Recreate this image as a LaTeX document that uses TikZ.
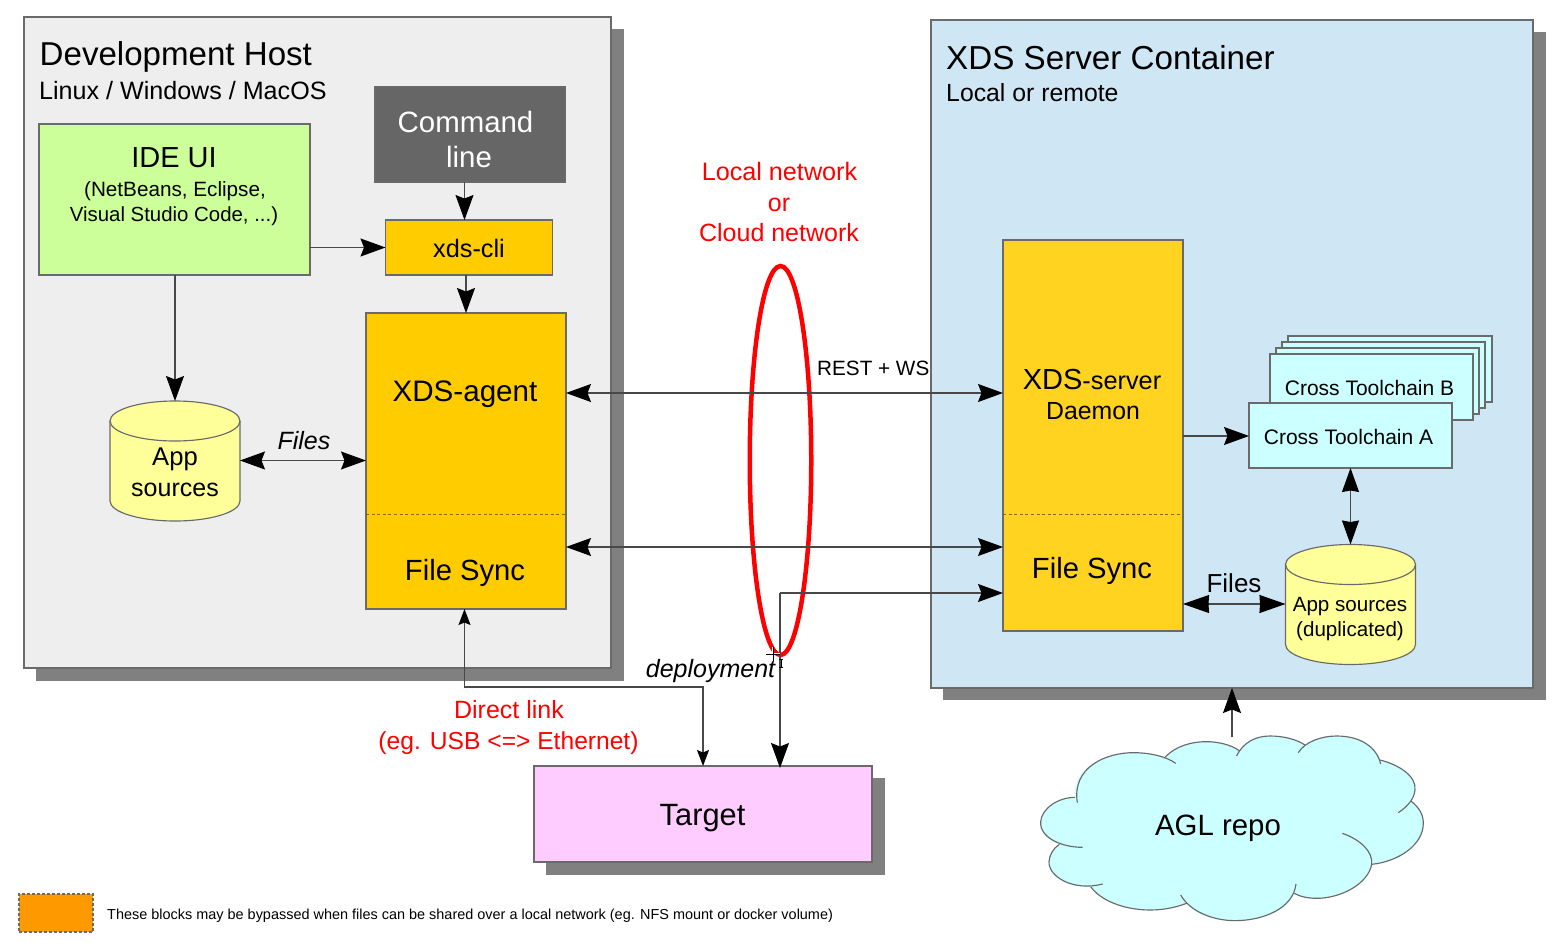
\documentclass[tikz,border=0pt]{standalone}
\usepackage{fontspec}
\setmainfont{Liberation Sans}
\usetikzlibrary{arrows.meta,shapes.geometric}
\definecolor{edge}{HTML}{6A6A6A}
\definecolor{shadowc}{HTML}{808080}
\definecolor{devc}{HTML}{EEEEEE}
\definecolor{srvc}{HTML}{CFE7F5}
\definecolor{idec}{HTML}{CCFF99}
\definecolor{cmdc}{HTML}{666666}
\definecolor{agentc}{HTML}{FFCC00}
\definecolor{daemonc}{HTML}{FFD320}
\definecolor{cylc}{HTML}{FFFF99}
\definecolor{cyanc}{HTML}{CCFFFF}
\definecolor{targetc}{HTML}{FFCCFF}
\definecolor{legendc}{HTML}{FF9900}
\definecolor{linec}{HTML}{484848}
\definecolor{dashc}{HTML}{806A10}
\newcommand{\fs}[1]{\fontsize{#1}{#1}\selectfont}
\tikzset{
  box/.style={draw=edge,line width=1.15pt,inner sep=0pt,outer sep=0pt,anchor=north west,rectangle},
  shadowbox/.style={fill=shadowc,draw=none,inner sep=0pt,outer sep=0pt,anchor=north west,rectangle},
  txt/.style={inner sep=0pt,anchor=base,text=black},
  ltxt/.style={inner sep=0pt,anchor=base west,text=black},
  redtxt/.style={txt,text=red},
  anchorbox/.style={inner sep=0pt,outer sep=0pt,minimum width=130pt,minimum height=120pt},
  conn/.style={draw=linec,line width=1.05pt},
  bighead/.tip={Stealth[length=25pt,width=18pt,inset=3.5pt,color=black]},
  flathead/.tip={Stealth[length=26pt,width=18pt,inset=0.5pt,color=black]},
  tallhead/.tip={Stealth[length=24pt,width=17pt,inset=1.5pt,color=black]},
  smallhead/.tip={Stealth[length=16pt,width=12pt,inset=2.5pt,color=black]},
  big/.style={conn,-bighead},
  bigboth/.style={conn,bighead-bighead},
  flatboth/.style={conn,flathead-flathead},
  tallboth/.style={conn,tallhead-tallhead},
  smallboth/.style={conn,smallhead-smallhead},
  cloudline/.style={draw=edge,line width=1.15pt},
  divider/.style={draw=dashc,line width=1pt,dash pattern=on 3pt off 2.6pt},
}
\newcommand{\cylshape}[2]{%
  \begin{scope}[shift={(#1,#2)}]
    \path[draw=edge,line width=1.15pt,fill=cylc] (0,20) -- (0,100) .. controls (0,111) and (29,120) .. (65,120) .. controls (101,120) and (130,111) .. (130,100) -- (130,20) .. controls (130,9) and (101,0) .. (65,0) .. controls (29,0) and (0,9) .. (0,20) -- cycle;
    \path[draw=edge,line width=1.15pt] (0,20) .. controls (0,31) and (29,40) .. (65,40) .. controls (101,40) and (130,31) .. (130,20);
  \end{scope}}
\begin{document}
\begin{tikzpicture}[x=1pt,y=-1pt]
\useasboundingbox (0,0) rectangle (1560,942);
% panels
\node[shadowbox,minimum width=588pt,minimum height=652pt] (devshadow) at (36,29) {};
\node[box,fill=devc,minimum width=587pt,minimum height=651pt] (dev) at (24,17) {};
\node[shadowbox,minimum width=603pt,minimum height=668pt] (srvshadow) at (943,32) {};
\node[box,fill=srvc,minimum width=602pt,minimum height=668pt] (srv) at (931,20) {};
\node[ltxt] (devt) at (39.5,66) {\fs{33.1}Development Host};
\node[ltxt] (devs) at (39,99.5) {\fs{25.1}Linux / Windows / MacOS};
\node[ltxt] (srvt) at (946,69.5) {\fs{33.2}XDS Server Container};
\node[ltxt] (srvs) at (946,101) {\fs{24.8}Local or remote};
% left boxes
\node[box,fill=idec,minimum width=271pt,minimum height=151pt] (ide) at (39,124) {};
\node[txt] (idet) at (174,167.5) {\fs{29}IDE UI};
\node[txt] (ides1) at (175,196) {\fs{20.7}(NetBeans, Eclipse,};
\node[txt] (ides2) at (174,221) {\fs{20.4}Visual Studio Code, ...)};
\node[box,fill=cmdc,minimum width=190.5pt,minimum height=95.5pt] (cmd) at (375,86.5) {};
\node[txt,text=white] (cmd1) at (465.5,132) {\fs{29.4}Command};
\node[txt,text=white] (cmd2) at (469,167) {\fs{29.4}line};
\node[box,fill=agentc,minimum width=167pt,minimum height=55pt] (cli) at (385.5,220) {};
\node[txt] (clit) at (469,257) {\fs{25.3}xds-cli};
\node[box,fill=agentc,minimum width=200pt,minimum height=296pt] (agent) at (366,313) {};
\draw[divider] (agent.west |- 0,514) -- (agent.east |- 0,514);
\node[txt] (agentt) at (465,401) {\fs{29.6}XDS-agent};
\node[txt] (agentf) at (465,580) {\fs{29.2}File Sync};
\cylshape{110}{401}
\node[anchorbox] (apps) at (175,461) {};
\node[txt] (apps1) at (175,465) {\fs{25.6}App};
\node[txt] (apps2) at (175,496) {\fs{25}sources};
% server boxes
\node[box,fill=daemonc,minimum width=180pt,minimum height=391pt] (daemon) at (1003,240) {};
\draw[divider] (daemon.west |- 0,514) -- (daemon.east |- 0,514);
\node[txt] (daemont) at (1092,389.5) {{\fs{29}XDS}{\fs{25.3}-server}};
\node[txt] (daemons) at (1093,419.5) {\fs{24.8}Daemon};
\node[txt] (daemonf) at (1092,578) {\fs{29.2}File Sync};
\node[box,fill=cyanc,minimum width=204pt,minimum height=66pt] (tc4) at (1288,336) {};
\node[box,fill=cyanc,minimum width=203pt,minimum height=66pt] (tc3) at (1282,342) {};
\node[box,fill=cyanc,minimum width=203pt,minimum height=66pt] (tc2) at (1276,348) {};
\node[box,fill=cyanc,minimum width=203pt,minimum height=66pt] (tcb) at (1270,354) {};
\node[txt] (tcbt) at (1369.5,395) {\fs{21}Cross Toolchain B};
\node[box,fill=cyanc,minimum width=203pt,minimum height=65pt] (tca) at (1249,403) {};
\node[txt] (tcat) at (1348.5,444) {\fs{21}Cross Toolchain A};
\cylshape{1285.5}{544.5}
\node[anchorbox] (dup) at (1350.5,604.5) {};
\node[txt] (dup1) at (1350,611) {\fs{20.6}App sources};
\node[txt] (dup2) at (1350,636) {\fs{20.6}(duplicated)};
% target
\node[shadowbox,minimum width=339pt,minimum height=97pt] (tgtshadow) at (546,778) {};
\node[box,fill=targetc,minimum width=338pt,minimum height=96pt] (target) at (534,766) {};
\node[txt] (targett) at (702.5,825.5) {\fs{30.8}Target};
% cloud
\begin{scope}[shift={(1030,720)},x=0.3333pt,y=-0.3333pt]
 \path[fill=cyanc] (135,232) .. controls (125,140) and (230,98) .. (310,98) .. controls (350,98) and (385,105) .. (405,112)
   .. controls (440,75) and (490,65) .. (530,65) .. controls (565,65) and (605,75) .. (628,92)
   .. controls (650,60) and (680,48) .. (720,48) .. controls (760,48) and (800,58) .. (825,75)
   .. controls (850,58) and (880,48) .. (920,48) .. controls (990,48) and (1040,80) .. (1050,120)
   .. controls (1110,135) and (1160,170) .. (1155,210) .. controls (1154,222) and (1150,232) .. (1143,243)
   .. controls (1170,265) and (1180,285) .. (1180,310) .. controls (1180,375) and (1105,425) .. (1025,433)
   .. controls (1015,490) and (935,535) .. (860,535) .. controls (835,535) and (810,530) .. (793,520)
   .. controls (775,570) and (700,602) .. (615,602) .. controls (550,602) and (495,585) .. (470,550)
   .. controls (435,563) and (400,570) .. (360,570) .. controls (280,570) and (210,540) .. (182,500)
   .. controls (110,505) and (55,470) .. (57,425) .. controls (58,405) and (70,385) .. (88,373)
   .. controls (50,360) and (30,335) .. (32,305) .. controls (35,265) and (85,232) .. (135,232) -- cycle;
 \path[cloudline] (142,248) .. controls (125,140) and (230,98) .. (310,98) .. controls (360,98) and (410,110) .. (437,130);
 \path[cloudline] (405,112) .. controls (440,75) and (490,65) .. (530,65) .. controls (565,65) and (605,75) .. (628,92);
 \path[cloudline] (620,108) .. controls (640,65) and (680,48) .. (720,48) .. controls (760,48) and (800,58) .. (825,75);
 \path[cloudline] (805,98) .. controls (825,65) and (875,48) .. (920,48) .. controls (990,48) and (1040,80) .. (1052,132);
 \path[cloudline] (1050,120) .. controls (1110,135) and (1160,170) .. (1155,210) .. controls (1153,235) and (1135,258) .. (1105,278);
 \path[cloudline] (1143,243) .. controls (1170,265) and (1180,285) .. (1180,310) .. controls (1180,375) and (1105,425) .. (1025,433);
 \path[cloudline] (937,340) .. controls (990,358) and (1030,395) .. (1025,433) .. controls (1015,490) and (935,535) .. (860,535) .. controls (835,535) and (810,530) .. (793,520);
 \path[cloudline] (798,492) .. controls (790,565) and (700,602) .. (615,602) .. controls (550,602) and (480,575) .. (452,525);
 \path[cloudline] (470,550) .. controls (435,563) and (400,570) .. (360,570) .. controls (280,570) and (210,540) .. (182,500);
 \path[cloudline] (218,492) .. controls (130,515) and (55,470) .. (57,425) .. controls (58,405) and (70,385) .. (88,373);
 \path[cloudline] (158,382) .. controls (90,382) and (28,350) .. (32,305) .. controls (35,265) and (85,232) .. (135,232);
\end{scope}
\node[txt] (cloudt) at (1218,835.5) {\fs{29.4}AGL repo};
\coordinate (cloudtop) at (1232,737);
% ellipse
\node[draw=red,line width=4.5pt,ellipse,inner sep=0pt,outer sep=0pt,minimum width=61.5pt,minimum height=389pt] (ring) at (780.5,460.5) {};
% free coordinates
\coordinate (rest) at (0,393);
\coordinate (sync) at (0,547);
\coordinate (depbend) at (780,593);
\coordinate (filesl) at (0,460.5);
\coordinate (filesr) at (0,604);
\coordinate (toolc) at (0,436);
\coordinate (dlink) at (0,687);
\coordinate (cmdx) at (464.5,0);
% connectors
\draw[big] (ide.east |- cli.west) -- (cli.west);
\draw[big] (cmd.south -| cmdx) -- (cli.north -| cmdx);
\draw[big] (cli.south -| agent.north) -- (agent.north);
\draw[big] (ide.south -| apps.north) -- (apps.north);
\draw[bigboth] (apps.east |- filesl) -- (agent.west |- filesl);
\draw[bigboth] (agent.east |- rest) -- (daemon.west |- rest);
\draw[bigboth] (agent.east |- sync) -- (daemon.west |- sync);
\draw[big] (depbend) -- (daemon.west |- depbend);
\draw[big] ([yshift=0.5pt]depbend) -- ([yshift=-2pt]target.north -| depbend);
\draw[smallboth] (agent.south -| cmdx) -- (cmdx |- dlink) -| (target.north);
\draw[big] (daemon.east |- toolc) -- (tca.west |- toolc);
\draw[tallboth] (tca.south -| dup.north) -- (dup.north);
\draw[flatboth] (daemon.east |- filesr) -- (dup.west |- filesr);
\draw[big] (cloudtop) -- (cloudtop |- srv.south);
% connector labels
\node[txt] (filest) at (304,449) {\fs{25}\itshape Files};
\node[ltxt] (restt) at (817,375) {\fs{20.7}REST + WS};
\node[txt] (filest2) at (1234,592) {\fs{26}Files};
\node[txt] (deplt) at (710.5,677) {\fs{25}\itshape deployment};
\node[redtxt] (net1) at (779.5,180) {\fs{25.2}Local network};
\node[redtxt] (net2) at (779,211) {\fs{25}or};
\node[redtxt] (net3) at (779,241) {\fs{25}Cloud network};
\node[redtxt] (dl1) at (509,718) {\fs{25}Direct link};
\node[redtxt] (dl2) at (508.5,749) {\fs{24.6}(eg. USB <=> Ethernet)};
% legend
\node[box,fill=legendc,dash pattern=on 3pt off 2pt,minimum width=74pt,minimum height=38pt] (legend) at (19,894) {};
\node[ltxt] (legendt) at (107,919) {\fs{14.45}These blocks may be bypassed when files can be shared over a local network (eg. NFS mount or docker volume)};
% pointer marks
\coordinate (crossc) at (773,654);
\draw[white,line width=2.4pt] ([xshift=-7pt]crossc) -- ([xshift=7pt]crossc) ([yshift=-7pt]crossc) -- ([yshift=7pt]crossc);
\draw[black,line width=0.8pt] ([xshift=-7pt]crossc) -- ([xshift=7pt]crossc) ([yshift=-7pt]crossc) -- ([yshift=7pt]crossc);
\coordinate (beamc) at (781,663);
\draw[black,line width=0.9pt] ([yshift=-4pt]beamc) -- ([yshift=4pt]beamc) ([xshift=-2pt,yshift=-4pt]beamc) -- ([xshift=2pt,yshift=-4pt]beamc) ([xshift=-2pt,yshift=4pt]beamc) -- ([xshift=2pt,yshift=4pt]beamc);
\end{tikzpicture}
\end{document}
